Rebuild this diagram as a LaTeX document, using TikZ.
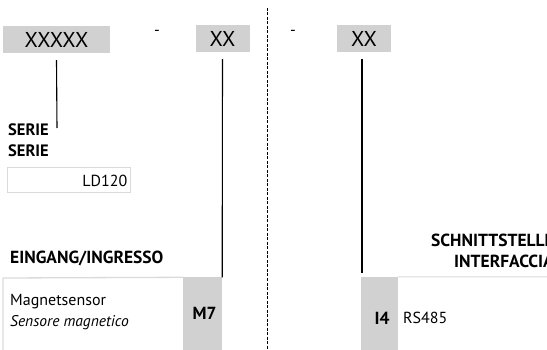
\documentclass[tikz,border=0pt]{standalone}
\usepackage{fontspec}
\setmainfont{PT Sans}
\usetikzlibrary{positioning}
\definecolor{codegray}{HTML}{D1D1D2}
\definecolor{framegray}{HTML}{DADADA}

\begin{document}
\begin{tikzpicture}[x=1pt,y=-1pt,
  code/.style={fill=codegray,minimum height=27pt,inner sep=0pt,font=\fontsize{21.5}{21.5}\selectfont},
  title/.style={inner sep=0pt,font=\fontsize{17.5}{21}\selectfont\bfseries},
  plain/.style={inner sep=0pt,font=\fontsize{16}{21}\selectfont},
  leader/.style={line width=1.1pt}]
  \useasboundingbox (0,0) rectangle (547,350);
  \clip (0,0) rectangle (547,350);
  % code fields
  \node[code,minimum width=107pt] (serieCode) at (56.5,39.5) {XXXXX};
  \node[code,minimum width=54pt] (eingCode) at (222.5,38.5) {XX};
  \node[code,minimum width=54pt] (schnCode) at (364,38.5) {XX};
  \node[plain] (dashA) at (157,33) {-};
  \node[plain] (dashB) at (293,33) {-};
  % separator
  \coordinate (sepTop) at (267,8);
  \coordinate (sepBot) at (267,350);
  \draw[dash pattern=on 3pt off 1.5pt,line width=1pt] (sepTop) -- (sepBot);
  % serie
  \node[title,anchor=west,align=left,font=\fontsize{16.5}{21}\selectfont\bfseries] (serieTitle) at (8,140.5) {SERIE\\SERIE};
  \node[draw=framegray,line width=1pt,minimum width=123pt,minimum height=25pt,inner sep=0pt] (serieBox) at (68.5,180.5) {};
  \node[plain,anchor=east] (serieVal) at ([xshift=-3pt]serieBox.east) {LD120};
  \coordinate (serieEnd) at (57,128);
  \draw[leader] ([yshift=-7pt]serieCode.south) -- (serieEnd);
  % eingang
  \node[title,anchor=west] (eingTitle) at (10,258) {EINGANG/INGRESSO};
  \node[fill=codegray,minimum width=39pt,minimum height=73pt,inner sep=0pt] (m7Box) at (202.5,314) {};
  \node[title] (m7) at (204.5,313) {M7};
  \draw[framegray,line width=1.3pt] (3,350) -- (3,278) -- (m7Box.north west);
  \node[plain,anchor=west,align=left] (eingText) at (10,312.5) {Magnetsensor\\\fontsize{15.5}{21}\selectfont\itshape Sensore magnetico};
  \draw[leader] ([yshift=-7pt]eingCode.south) -- (m7Box.north east);
  % schnittstelle
  \node[title,anchor=east,align=right] (schnTitle) at (554,251) {SCHNITTSTELLE\\INTERFACCIA};
  \node[fill=codegray,minimum width=37pt,minimum height=73pt,inner sep=0pt] (i4Box) at (379.5,313.5) {};
  \node[title] (i4) at (382,318) {I4};
  \node[plain,anchor=west] (i4Text) at (403,318) {RS485};
  \draw[framegray,line width=1pt] (i4Box.north east) -- (547,277);
  \coordinate (schnEnd) at (362,273);
  \draw[leader] ([yshift=-7pt]schnCode.south -| schnEnd) -- (schnEnd);
\end{tikzpicture}
\end{document}
